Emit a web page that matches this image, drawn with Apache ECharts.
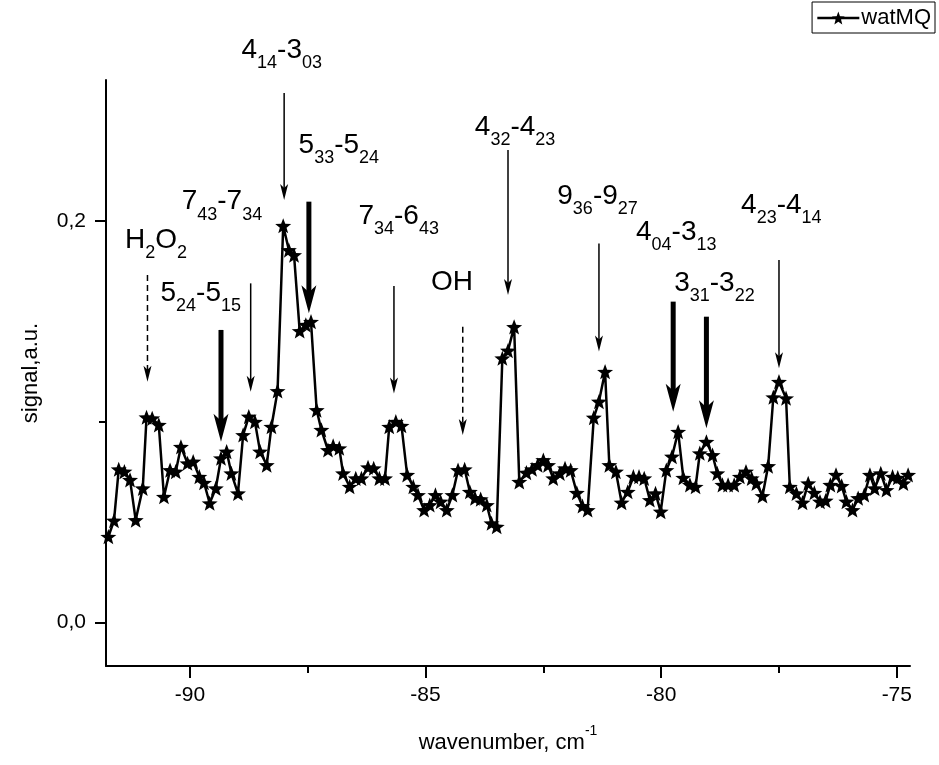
<!DOCTYPE html>
<html>
<head>
<meta charset="utf-8">
<script src="https://cdn.jsdelivr.net/npm/echarts@6/dist/echarts.min.js"></script>
<style>
html,body{margin:0;padding:0;background:#fff;}
#chart{width:939px;height:765px;}
</style>
</head>
<body>
<div id="chart"></div>
<script>
// ---- data ----
const wavenumber = [
-91.73,-91.61,-91.51,-91.39,-91.27,-91.15,-91.00,-90.92,-90.80,-90.66,
-90.55,-90.42,-90.30,-90.19,-90.05,-89.93,-89.80,-89.70,-89.58,-89.45,
-89.34,-89.22,-89.12,-88.98,-88.87,-88.75,-88.62,-88.51,-88.37,-88.27,
-88.14,-88.02,-87.90,-87.79,-87.67,-87.54,-87.43,-87.31,-87.21,-87.07,
-86.96,-86.83,-86.75,-86.61,-86.48,-86.36,-86.22,-86.10,-85.98,-85.86,
-85.77,-85.63,-85.51,-85.39,-85.26,-85.16,-85.03,-84.91,-84.79,-84.68,
-84.55,-84.43,-84.31,-84.17,-84.06,-83.95,-83.83,-83.70,-83.60,-83.49,
-83.37,-83.25,-83.12,-83.01,-82.86,-82.74,-82.62,-82.50,-82.40,-82.29,
-82.15,-82.04,-81.92,-81.79,-81.67,-81.56,-81.43,-81.32,-81.19,-81.10,
-80.96,-80.84,-80.71,-80.59,-80.47,-80.36,-80.24,-80.12,-80.01,-79.89,
-79.77,-79.64,-79.53,-79.39,-79.27,-79.18,-79.04,-78.91,-78.81,-78.70,
-78.58,-78.45,-78.33,-78.20,-78.08,-77.98,-77.85,-77.73,-77.62,-77.50,
-77.35,-77.27,-77.13,-77.00,-76.88,-76.75,-76.63,-76.51,-76.41,-76.29,
-76.17,-76.07,-75.94,-75.82,-75.69,-75.57,-75.47,-75.34,-75.22,-75.09,
-74.98,-74.86,-74.76
];
const signal = [
0.0428,0.0508,0.0764,0.0752,0.0711,0.0511,0.0669,0.1023,0.1018,0.0985,
0.0627,0.0760,0.0752,0.0876,0.0794,0.0802,0.0727,0.0697,0.0595,0.0669,
0.0819,0.0852,0.0744,0.0644,0.0935,0.1026,0.1001,0.0852,0.0785,0.0976,
0.1154,0.1977,0.1856,0.1831,0.1453,0.1483,0.1499,0.1059,0.0960,0.0860,
0.0880,0.0869,0.0744,0.0677,0.0719,0.0719,0.0774,0.0769,0.0719,0.0719,
0.0976,0.1001,0.0981,0.0736,0.0677,0.0636,0.0561,0.0586,0.0636,0.0603,
0.0561,0.0636,0.0760,0.0764,0.0652,0.0620,0.0615,0.0586,0.0495,0.0478,
0.1317,0.1355,0.1473,0.0701,0.0747,0.0764,0.0785,0.0810,0.0785,0.0719,
0.0744,0.0769,0.0760,0.0647,0.0581,0.0561,0.1021,0.1101,0.1250,0.0785,
0.0752,0.0598,0.0652,0.0727,0.0727,0.0719,0.0611,0.0644,0.0553,0.0760,
0.0827,0.0951,0.0722,0.0686,0.0677,0.0844,0.0901,0.0835,0.0744,0.0686,
0.0686,0.0686,0.0727,0.0752,0.0719,0.0694,0.0631,0.0780,0.1123,0.1200,
0.1118,0.0677,0.0644,0.0598,0.0694,0.0647,0.0603,0.0608,0.0686,0.0736,
0.0681,0.0603,0.0561,0.0620,0.0636,0.0736,0.0669,0.0744,0.0661,0.0727,
0.0722,0.0694,0.0736
];
const seriesName = 'watMQ';
const xMajorTicks = [-90, -85, -80, -75];
const xMinorTicks = [-87.5, -82.5, -77.5];
const yMajorTicks = [0, 0.2];
const yMinorTicks = [0.1];
const xRange = [-91.78, -74.72];
const yRange = [-0.0216, 0.2703];

// annotation labels: fragments separated by '|', a leading '_' marks a subscript;
// anchor (x, y) in data units = centre of the label, at subscript height
const labelTexts = [
  'H|_2|O|_2',
  '5|_24|-5|_15',
  '7|_43|-7|_34',
  '4|_14|-3|_03',
  '5|_33|-5|_24',
  '7|_34|-6|_43',
  'OH',
  '4|_32|-4|_23',
  '9|_36|-9|_27',
  '4|_04|-3|_13',
  '3|_31|-3|_22',
  '4|_23|-4|_14'
];
const labelX = [-90.72,-89.77,-89.32,-88.05,-86.84,-85.57,-84.44,-83.10,-81.35,-79.68,-78.87,-77.45];
const labelY = [0.1841,0.1577,0.2032,0.2787,0.2314,0.1961,0.1632,0.2404,0.2060,0.1881,0.1627,0.2015];

// annotation arrows: x, top y, tip y, style ('thin','thick','dashed')
const arrowX    = [-90.90,-89.34,-88.71,-88.00,-87.475,-85.67,-84.21,-83.25,-81.32,-79.745,-79.04,-77.50];
const arrowTop  = [0.1732,0.1458,0.1690,0.2638,0.2097,0.1677,0.1474,0.2354,0.1889,0.1599,0.1524,0.1806];
const arrowTip  = [0.1200,0.0901,0.1150,0.2105,0.1541,0.1142,0.0935,0.1632,0.1350,0.1051,0.0968,0.1267];
const arrowKind = ['dashed','thick','thin','thin','thick','thin','dashed','thin','thin','thick','thick','thin'];

// ---- build ----
function starPath() {
  let p = '';
  for (let i = 0; i < 10; i++) {
    const r = i % 2 === 0 ? 1 : 0.42;
    const a = -Math.PI / 2 + i * Math.PI / 5;
    p += (i === 0 ? 'M' : 'L') + (r * Math.cos(a)).toFixed(4) + ',' + (r * Math.sin(a)).toFixed(4) + ' ';
  }
  return 'path://' + p + 'Z';
}
const STAR = starPath();
const FONT = '"Liberation Sans", Arial, sans-serif';
const BIG = 28, SUB = 18, SUB_DROP = 13;

const lineData = wavenumber.map((x, i) => [x, signal[i]]);

const chart = echarts.init(document.getElementById('chart'), null, { renderer: 'canvas' });
const axisLineStyle = { color: '#000', width: 2 };

const arrowStyles = {
  thin:   { width: 1.5, type: 'solid', head: [8, 16] },
  thick:  { width: 5,   type: 'solid', head: [15, 28] },
  dashed: { width: 1.5, type: [6, 4],  head: [8, 16] }
};

chart.setOption({
  animation: false,
  backgroundColor: '#fff',
  textStyle: { fontFamily: FONT },
  grid: { left: 106, right: 29, top: 80, bottom: 99, containLabel: false },
  legend: {
    data: [seriesName],
    right: 4, top: 2,
    borderColor: '#000', borderWidth: 1, borderRadius: 0,
    padding: [5, 4, 4, 4],
    itemWidth: 42, itemHeight: 16,
    lineStyle: { width: 2.5, color: '#000' },
    itemStyle: { color: '#000' },
    textStyle: { fontSize: 22, color: '#000', fontFamily: FONT, padding: [0, 0, 0, -3] }
  },
  xAxis: [
    {
      type: 'value', min: xRange[0], max: xRange[1],
      position: 'bottom',
      name: '{a|wavenumber, cm}{p|-1}',
      nameLocation: 'middle', nameGap: 58,
      nameTextStyle: {
        rich: {
          a: { fontSize: 22, color: '#000', fontFamily: FONT, lineHeight: 30, verticalAlign: 'bottom' },
          p: { fontSize: 14, color: '#000', fontFamily: FONT, lineHeight: 14, verticalAlign: 'top' }
        }
      },
      axisLine: { show: true, onZero: false, lineStyle: axisLineStyle },
      axisTick: { show: true, length: 12, lineStyle: { color: '#000', width: 2 }, customValues: xMajorTicks },
      axisLabel: { show: true, margin: 19, fontSize: 21, color: '#000', fontFamily: FONT,
                   customValues: xMajorTicks, formatter: v => String(v) },
      splitLine: { show: false }
    },
    {
      type: 'value', min: xRange[0], max: xRange[1],
      position: 'bottom',
      axisLine: { show: false, onZero: false },
      axisTick: { show: true, length: 7, lineStyle: { color: '#000', width: 2 }, customValues: xMinorTicks },
      axisLabel: { show: false },
      splitLine: { show: false }
    }
  ],
  yAxis: [
    {
      type: 'value', min: yRange[0], max: yRange[1],
      position: 'left',
      name: 'signal,a.u.',
      nameLocation: 'middle', nameGap: 64, nameRotate: 90,
      nameTextStyle: { fontSize: 22, color: '#000', fontFamily: FONT },
      axisLine: { show: true, onZero: false, lineStyle: axisLineStyle },
      axisTick: { show: true, length: 11, lineStyle: { color: '#000', width: 2 }, customValues: yMajorTicks },
      axisLabel: { show: true, margin: 20, fontSize: 21, color: '#000', fontFamily: FONT,
                   customValues: yMajorTicks, formatter: v => v.toFixed(1).replace('.', ',') },
      splitLine: { show: false }
    },
    {
      type: 'value', min: yRange[0], max: yRange[1],
      position: 'left',
      axisLine: { show: false, onZero: false },
      axisTick: { show: true, length: 7, lineStyle: { color: '#000', width: 2 }, customValues: yMinorTicks },
      axisLabel: { show: false },
      splitLine: { show: false }
    }
  ],
  series: [
    {
      name: seriesName,
      type: 'line',
      data: lineData,
      xAxisIndex: 0, yAxisIndex: 0,
      symbol: STAR, symbolSize: 16, symbolKeepAspect: true,
      showAllSymbol: true,
      itemStyle: { color: '#000' },
      lineStyle: { color: '#000', width: 2.5 },
      z: 3
    }
  ]
});

// arrows: positioned from data coordinates through the axes
function toPx(x, y) { return chart.convertToPixel({ xAxisIndex: 0, yAxisIndex: 0 }, [x, y]); }
const graphics = [];
arrowX.forEach((x, i) => {
  const st = arrowStyles[arrowKind[i]];
  const top = toPx(x, arrowTop[i]);
  const tip = toPx(x, arrowTip[i]);
  const hw = st.head[0] / 2, hl = st.head[1];
  graphics.push({
    type: 'line', silent: true, z: 10,
    shape: { x1: top[0], y1: top[1], x2: tip[0], y2: tip[1] - hl * 0.6 },
    style: { stroke: '#000', lineWidth: st.width, lineDash: Array.isArray(st.type) ? st.type : null }
  });
  graphics.push({
    type: 'polygon', silent: true, z: 10,
    shape: { points: [[tip[0], tip[1]], [tip[0] - hw, tip[1] - hl], [tip[0], tip[1] - hl * 0.75], [tip[0] + hw, tip[1] - hl]] },
    style: { fill: '#000' }
  });
});

// labels with subscripts
const ctx = document.createElement('canvas').getContext('2d');
function measure(t, size) { ctx.font = size + 'px ' + FONT; return ctx.measureText(t).width; }
labelTexts.forEach((lt, i) => {
  const frags = lt.split('|').map(f => f.startsWith('_') ? { t: f.slice(1), sub: true } : { t: f, sub: false });
  const widths = frags.map(f => measure(f.t, f.sub ? SUB : BIG));
  const total = widths.reduce((a, b) => a + b, 0);
  const hasSub = frags.some(f => f.sub);
  const anchor = toPx(labelX[i], labelY[i]);
  let cx = anchor[0] - total / 2;
  const bigY = anchor[1] - SUB_DROP;
  frags.forEach((f, k) => {
    graphics.push({
      type: 'text', silent: true, z: 10,
      x: cx, y: f.sub ? anchor[1] : bigY,
      style: { text: f.t, fill: '#000', font: (f.sub ? SUB : BIG) + 'px ' + FONT,
               textAlign: 'left', textVerticalAlign: 'middle', verticalAlign: 'middle' }
    });
    cx += widths[k];
  });
});
chart.setOption({ graphic: graphics });
</script>
</body>
</html>
